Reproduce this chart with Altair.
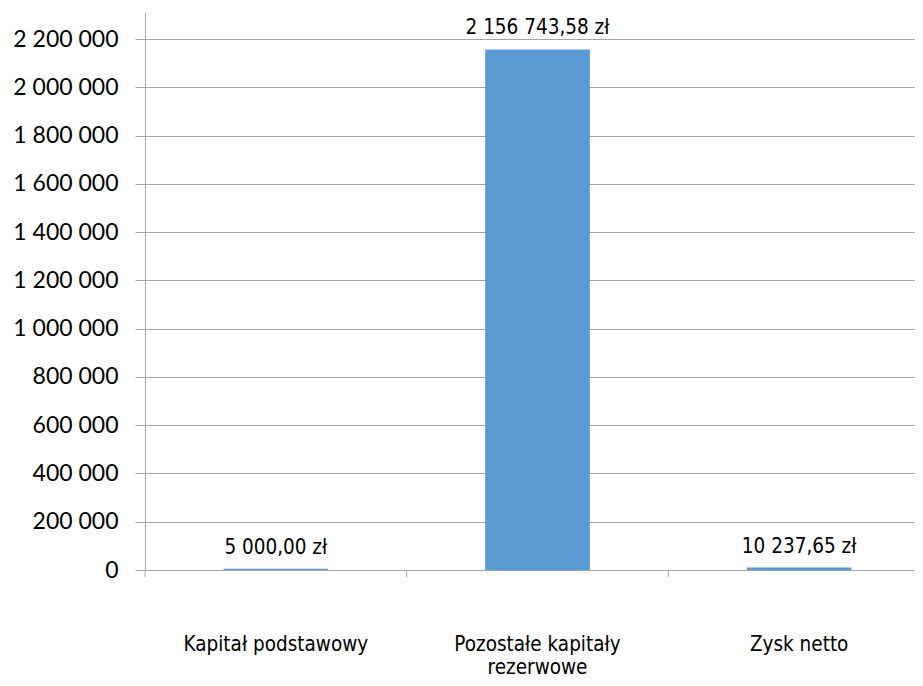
import altair as alt
import pandas as pd

categories = ["Kapitał podstawowy", "Pozostałe kapitały\nrezerwowe", "Zysk netto"]
values = [5000.00, 2156743.58, 10237.65]
y_ticks = [0, 200000, 400000, 600000, 800000, 1000000, 1200000,
           1400000, 1600000, 1800000, 2000000, 2200000]

df = pd.DataFrame({"cat": categories, "val": values})

W, H = 770, 558
BAND_MAX = 785
GRID = "#a6a6a6"
TXT_FONT = "DejaVu Sans Condensed, DejaVu Sans"

xbar = alt.X(
    "cat:N",
    sort=categories,
    scale=alt.Scale(domain=categories, paddingInner=0.6, paddingOuter=0.3,
                    rangeMin=0, rangeMax=BAND_MAX),
    axis=alt.Axis(
        title=None, ticks=False, tickSize=0, domain=False, labelAngle=0,
        labelExpr="split(datum.label, '\\n')",
        labelFont=TXT_FONT, labelFontSize=20.5, labelColor="#000000",
        labelPadding=80, labelLineHeight=23, labelBaseline="alphabetic",
        labelLimit=0,
    ),
)
ybar = alt.Y(
    "val:Q",
    scale=alt.Scale(domain=[0, 2312000], nice=False, zero=True),
    axis=alt.Axis(
        title=None, values=y_ticks, format=",d",
        labelFont="Lato", labelFontSize=23, labelColor="#000000",
        labelPadding=17, tickSize=10, tickColor=GRID, domainColor=GRID,
        gridColor=GRID, grid=True,
    ),
)

bars = alt.Chart(df).mark_bar(color="#5B9BD5").encode(x=xbar, y=ybar)

labels = alt.Chart(df).mark_text(
    font=TXT_FONT, fontSize=20.5, color="#000000", baseline="alphabetic", dy=-15
).encode(
    x=alt.X("cat:N", sort=categories),
    y="val:Q",
    text=alt.Text("val:Q", format="$,.2f"),
)

ticks = alt.Chart(df).mark_rule(color=GRID, strokeWidth=1).encode(
    x=alt.X("cat:N", sort=categories, bandPosition=0,
            scale=alt.Scale(domain=categories, paddingInner=0, paddingOuter=0,
                            rangeMin=0, rangeMax=BAND_MAX),
            axis=None),
    y=alt.value(H),
    y2=alt.value(H + 7),
)

main = alt.layer(bars, labels)
chart = alt.layer(main, ticks).resolve_scale(x="independent").properties(
    width=W, height=H,
    autosize=alt.AutoSizeParams(type="none"),
    padding={"left": 137, "top": 4, "right": 0, "bottom": 108},
).configure(
    locale={"number": {"decimal": ",", "thousands": " ", "grouping": [3],
                       "currency": ["", " zł"]}},
).configure_view(stroke=None)

chart.save("out.html", embed_options={"renderer": "svg", "actions": False})
